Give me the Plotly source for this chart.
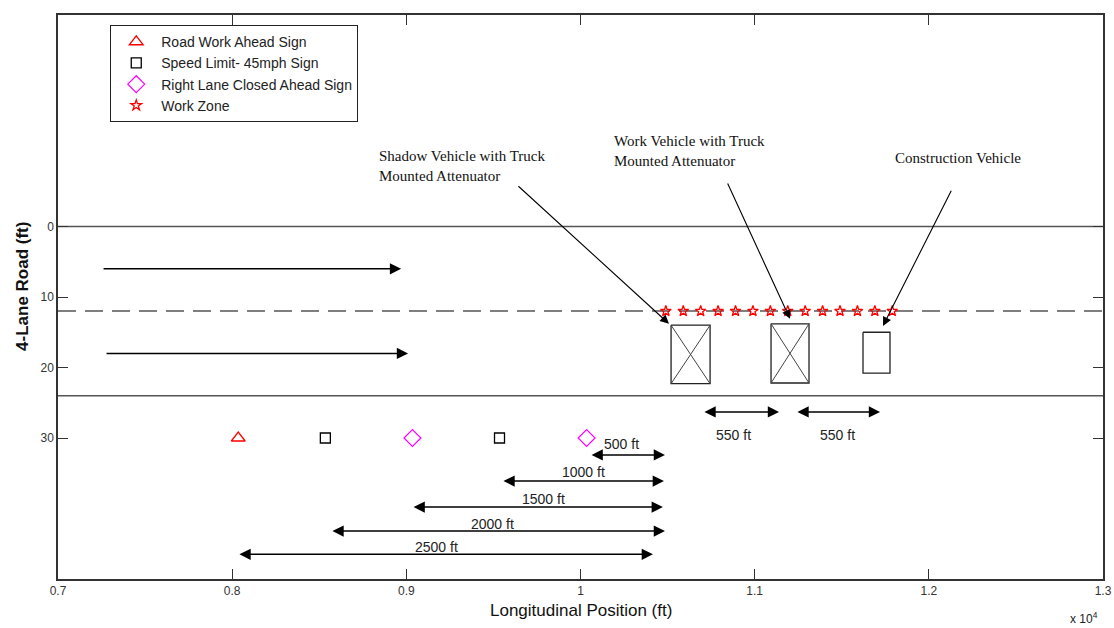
import plotly.graph_objects as go

# ---------------- data ----------------
x_range = [7000, 13000]
y_range = [50, -30]
road_edges = [0, 24]
lane_center = 12

x_tick_vals = [7000, 8000, 9000, 10000, 11000, 12000, 13000]
x_tick_text = ["0.7", "0.8", "0.9", "1", "1.1", "1.2", "1.3"]
y_tick_vals = [0, 10, 20, 30]

sign_y = 30
road_work_x = [8035]
speed_limit_x = [8535, 9535]
lane_closed_x = [9035, 10035]

work_zone_x = [10490, 10590, 10690, 10790, 10890, 10990, 11090,
               11190, 11290, 11390, 11490, 11590, 11690, 11790]
work_zone_y = 12

# vehicles
veh_names = ["Shadow", "Work", "Construction"]
veh_x0 = [10520, 11094, 11622]
veh_x1 = [10744, 11312, 11777]
veh_y0 = [14.0, 13.8, 15.0]
veh_y1 = [22.3, 22.2, 20.8]
veh_cross = [True, True, False]

# traffic direction arrows
traffic_x0 = [7253, 7270]
traffic_x1 = [8970, 9010]
traffic_y = [6, 18]

# distance arrows (double headed)
dist_labels = ["500 ft", "1000 ft", "1500 ft", "2000 ft", "2500 ft", "550 ft", "550 ft"]
dist_x0 = [10055, 9549, 9033, 8567, 8033, 10703, 11237]
dist_x1 = [10485, 10479, 10473, 10485, 10416, 11140, 11720]
dist_y = [32.4, 36.1, 39.8, 43.2, 46.5, 26.3, 26.3]
dist_label_x = [10238, 10020, 9790, 9497, 9176, 10876, 11478]
dist_label_y = [30.9, 34.8, 38.7, 42.2, 45.5, 29.6, 29.6]

# callouts
call_text = ["Shadow Vehicle with Truck<br>Mounted Attenuator",
             "Work Vehicle with Truck<br>Mounted Attenuator",
             "Construction Vehicle"]
call_tx = [8832, 10181, 11794]
call_ty = [-11.4, -13.5, -11.1]
call_ax = [9635, 10841, 12133]
call_ay = [-5.9, -6.3, -5.3]
call_hx = [10508, 11203, 11737]
call_hy = [13.8, 13.1, 14.1]

x_title = "Longitudinal Position (ft)"
y_title = "<b>4-Lane Road (ft)</b>"

# ---------------- figure ----------------
fig = go.Figure()

road_col = "#555555"
for ye in road_edges:
    fig.add_trace(go.Scatter(x=x_range, y=[ye, ye], mode="lines",
                             line=dict(color=road_col, width=1.5),
                             showlegend=False, hoverinfo="skip"))
fig.add_trace(go.Scatter(x=x_range, y=[lane_center, lane_center], mode="lines",
                         line=dict(color=road_col, width=1.5, dash="18px,9px"),
                         showlegend=False, hoverinfo="skip"))

for i in range(len(veh_names)):
    bx = [veh_x0[i], veh_x1[i], veh_x1[i], veh_x0[i], veh_x0[i]]
    by = [veh_y0[i], veh_y0[i], veh_y1[i], veh_y1[i], veh_y0[i]]
    fig.add_trace(go.Scatter(x=bx, y=by, mode="lines",
                             line=dict(color="#222222", width=1.3),
                             showlegend=False, hoverinfo="skip"))
    if veh_cross[i]:
        cx = [veh_x0[i], veh_x1[i], None, veh_x1[i], veh_x0[i]]
        cy = [veh_y0[i], veh_y1[i], None, veh_y0[i], veh_y1[i]]
        fig.add_trace(go.Scatter(x=cx, y=cy, mode="lines",
                                 line=dict(color="#444444", width=1),
                                 showlegend=False, hoverinfo="skip"))

fig.add_trace(go.Scatter(x=road_work_x, y=[sign_y] * len(road_work_x), mode="markers",
                         name="Road Work Ahead Sign",
                         marker=dict(symbol="triangle-up-open", color="red", size=12,
                                     line=dict(width=1.3))))
fig.add_trace(go.Scatter(x=speed_limit_x, y=[sign_y] * len(speed_limit_x), mode="markers",
                         name="Speed Limit- 45mph Sign",
                         marker=dict(symbol="square-open", color="black", size=10,
                                     line=dict(width=1.3))))
fig.add_trace(go.Scatter(x=lane_closed_x, y=[sign_y] * len(lane_closed_x), mode="markers",
                         name="Right Lane Closed Ahead Sign",
                         marker=dict(symbol="diamond-open", color="magenta", size=13,
                                     line=dict(width=1.2))))
fig.add_trace(go.Scatter(x=work_zone_x, y=[work_zone_y] * len(work_zone_x), mode="markers",
                         name="Work Zone",
                         marker=dict(symbol="star-open", color="red", size=8,
                                     line=dict(width=1.3))))

annotations = []
for i in range(len(traffic_y)):
    annotations.append(dict(x=traffic_x1[i], y=traffic_y[i], ax=traffic_x0[i], ay=traffic_y[i],
                            xref="x", yref="y", axref="x", ayref="y", text="",
                            showarrow=True, arrowhead=2, arrowsize=1.5, arrowwidth=1.5,
                            arrowcolor="black", standoff=0, startstandoff=0))
for i in range(len(dist_labels)):
    annotations.append(dict(x=dist_x1[i], y=dist_y[i], ax=dist_x0[i], ay=dist_y[i],
                            xref="x", yref="y", axref="x", ayref="y", text="",
                            showarrow=True, arrowhead=2, startarrowhead=2,
                            arrowside="end+start", arrowsize=1.5, startarrowsize=1.5,
                            arrowwidth=1.5, arrowcolor="black", standoff=0, startstandoff=0))
    annotations.append(dict(x=dist_label_x[i], y=dist_label_y[i], xref="x", yref="y",
                            text=dist_labels[i], showarrow=False,
                            font=dict(family="Liberation Sans, Arial", size=14, color="#222222")))
for i in range(len(call_text)):
    annotations.append(dict(x=call_tx[i], y=call_ty[i], xref="x", yref="y",
                            text=call_text[i], showarrow=False, xanchor="left", yanchor="top",
                            align="left",
                            font=dict(family="Liberation Serif, Times New Roman", size=15,
                                      color="#111111")))
    annotations.append(dict(x=call_hx[i], y=call_hy[i], ax=call_ax[i], ay=call_ay[i],
                            xref="x", yref="y", axref="x", ayref="y", text="",
                            showarrow=True, arrowhead=2, arrowsize=1.6, arrowwidth=1.1,
                            arrowcolor="black", standoff=0, startstandoff=0))
# exponent label
annotations.append(dict(x=0.997, y=-0.087, xref="paper", yref="paper",
                        text="x 10<sup>4</sup>", showarrow=False, xanchor="right", yanchor="bottom",
                        font=dict(family="Liberation Sans, Arial", size=12, color="#222222")))
# axis titles
annotations.append(dict(x=0.5, y=-0.0550, xref="paper", yref="paper", text=x_title,
                        showarrow=False, xanchor="center", yanchor="middle",
                        font=dict(family="Liberation Sans, Arial", size=17, color="#111111")))
annotations.append(dict(x=-0.0345, y=0.5195, xref="paper", yref="paper", text=y_title,
                        showarrow=False, xanchor="center", yanchor="middle", textangle=-90,
                        font=dict(family="Liberation Sans, Arial", size=17, color="#111111")))

axis_common = dict(showline=True, linecolor="#333333", linewidth=1.5, mirror="ticks",
                   ticks="inside", ticklen=10, tickcolor="#333333", tickwidth=1,
                   showgrid=False, zeroline=False, automargin=False,
                   tickfont=dict(family="Liberation Sans, Arial", size=12, color="#333333"))

fig.update_layout(
    width=1114, height=628,
    margin=dict(l=58, r=11, t=15, b=49),
    paper_bgcolor="white", plot_bgcolor="white",
    showlegend=True,
    legend=dict(x=0.05, y=0.982, xanchor="left", yanchor="top",
                bgcolor="white", bordercolor="#222222", borderwidth=1,
                itemwidth=40,
                font=dict(family="Liberation Sans, Arial", size=14, color="#222222"),
                tracegroupgap=0),
    xaxis=dict(range=x_range, tickvals=x_tick_vals, ticktext=x_tick_text, **axis_common),
    yaxis=dict(range=y_range, tickvals=y_tick_vals, **axis_common),
    annotations=annotations,
)

fig.write_html("out.html")
